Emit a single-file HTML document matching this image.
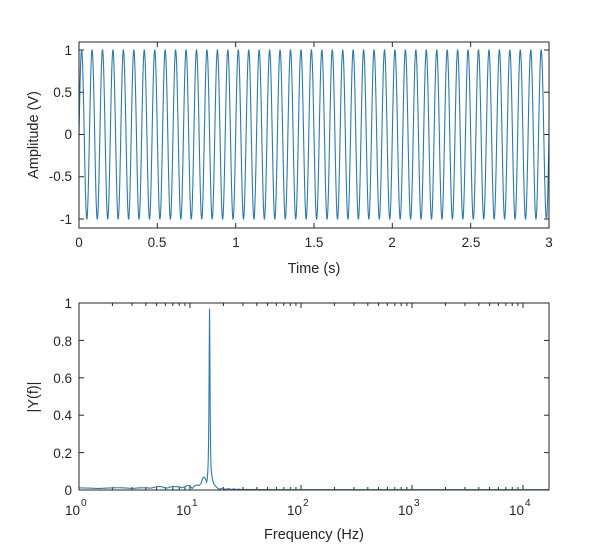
<!DOCTYPE html>
<html><head><meta charset="utf-8"><style>
html,body{margin:0;padding:0;background:#fff;}
svg{display:block;font-family:"Liberation Sans",Arial,sans-serif;}
</style></head><body>
<svg id="s" width="607" height="552" viewBox="0 0 607 552" xmlns="http://www.w3.org/2000/svg">
<rect width="607" height="552" fill="#fff"/>
<g id="gTop"></g>
<g id="gBot"></g>
<rect x="79" y="42" width="470" height="186" fill="none" stroke="#262626" stroke-width="1"/>
<rect x="79" y="303" width="470" height="187" fill="none" stroke="#262626" stroke-width="1"/>
<g font-size="13.5" fill="#262626" text-anchor="end">
<text x="72" y="55">1</text>
<text x="72" y="97">0.5</text>
<text x="72" y="139">0</text>
<text x="72" y="181">-0.5</text>
<text x="72" y="224">-1</text>
</g>
<g font-size="13.5" fill="#262626" text-anchor="middle">
<text x="79" y="247">0</text>
<text x="157" y="247">0.5</text>
<text x="236" y="247">1</text>
<text x="314" y="247">1.5</text>
<text x="392" y="247">2</text>
<text x="471" y="247">2.5</text>
<text x="549" y="247">3</text>
</g>
<text x="314" y="273" font-size="14.5" fill="#262626" text-anchor="middle">Time (s)</text>
<text transform="translate(38,135) rotate(-90)" font-size="14.5" fill="#262626" text-anchor="middle">Amplitude (V)</text>
<g font-size="13.5" fill="#262626" text-anchor="end">
<text x="72" y="308">1</text>
<text x="72" y="346">0.8</text>
<text x="72" y="383">0.6</text>
<text x="72" y="420">0.4</text>
<text x="72" y="458">0.2</text>
<text x="72" y="495">0</text>
</g>
<g font-size="13.5" fill="#262626">
<text x="65" y="515">10</text><text x="81" y="506" font-size="10">0</text>
<text x="176" y="515">10</text><text x="192" y="506" font-size="10">1</text>
<text x="287" y="515">10</text><text x="303" y="506" font-size="10">2</text>
<text x="398" y="515">10</text><text x="414" y="506" font-size="10">3</text>
<text x="509" y="515">10</text><text x="525" y="506" font-size="10">4</text>
</g>
<text x="314" y="539" font-size="14.5" fill="#262626" text-anchor="middle">Frequency (Hz)</text>
<text transform="translate(38,397) rotate(-90)" font-size="14.5" fill="#262626" text-anchor="middle">|Y(f)|</text>
</svg>
<script>
(function(){
var NS="http://www.w3.org/2000/svg";
function el(p,n,a){var e=document.createElementNS(NS,n);for(var k in a)e.setAttribute(k,a[k]);p.appendChild(e);return e;}
var gT=document.getElementById("gTop"),gB=document.getElementById("gBot");
var tk="#262626";
for(var i=0;i<=6;i++){var x=79+i*78.33;el(gT,"line",{x1:x,x2:x,y1:228,y2:223,stroke:tk});el(gT,"line",{x1:x,x2:x,y1:42,y2:47,stroke:tk});}
[50,92.25,134.5,176.75,219].forEach(function(y){el(gT,"line",{x1:79,x2:84,y1:y,y2:y,stroke:tk});el(gT,"line",{x1:549,x2:544,y1:y,y2:y,stroke:tk});});
var p=[];for(var i=0;i<=4000;i++){var t=3*i/4000;p.push((79+t*156.67).toFixed(2)+","+(134.5-84.5*Math.sin(2*Math.PI*15*t)).toFixed(2));}
el(gT,"polyline",{points:p.join(" "),fill:"none",stroke:"#2b7bb0","stroke-width":1.1});
function fx(f){return 79+111*Math.log10(f);}
for(var d=0;d<=4;d++){for(var m=1;m<=9;m++){var f=m*Math.pow(10,d);var x=fx(f);if(x>549)break;var L=m==1?5:3;
el(gB,"line",{x1:x,x2:x,y1:490,y2:490-L,stroke:tk});el(gB,"line",{x1:x,x2:x,y1:303,y2:303+L,stroke:tk});}}
[303,340.4,377.8,415.2,452.6,490].forEach(function(y){el(gB,"line",{x1:79,x2:84,y1:y,y2:y,stroke:tk});el(gB,"line",{x1:549,x2:544,y1:y,y2:y,stroke:tk});});
function fy(v){return 490-187*v;}
var q=[];
for(var i=0;i<=1500;i++){var lf=4.23*i/1500;var f=Math.pow(10,lf);var v;
 var pk=0.97/(1+Math.pow((f-15)/0.18,2));
 if(f<15){v=0.008+0.004*Math.abs(Math.sin(f*2.1))+(f>4?0.012*Math.abs(Math.sin(f*1.5))*(f/10):0)+0.045*Math.exp(-Math.pow((f-13.3)/0.9,2));}
 else{v=0.012*Math.abs(Math.sin(f*1.2))*Math.exp(-(f-15)/8)+0.002+0.25*Math.exp(-(f-15)/0.6);}
 v=Math.max(v,pk); q.push(fx(f).toFixed(2)+","+fy(v).toFixed(2));}
el(gB,"polyline",{points:q.join(" "),fill:"none",stroke:"#2b7bb0","stroke-width":1.1});
})();
</script>
</body></html>
